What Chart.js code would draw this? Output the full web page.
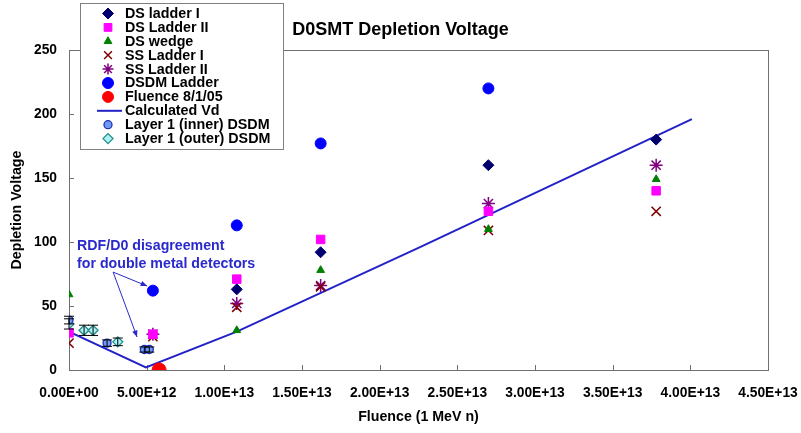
<!DOCTYPE html>
<html>
<head>
<meta charset="utf-8">
<script src="https://cdn.jsdelivr.net/npm/chart.js@4.4.0/dist/chart.umd.min.js"></script>
<style>
  body { margin: 0; background: #fff; }
  #wrap { width: 801px; height: 433px; }
</style>
</head>
<body>
<div id="wrap"><canvas id="chartVd" width="801" height="433"></canvas></div>
<script>
// values (x = fluence, y = depletion voltage)
const xTickLabels = ["0.00E+00", "5.00E+12", "1.00E+13", "1.50E+13", "2.00E+13", "2.50E+13", "3.00E+13", "3.50E+13", "4.00E+13", "4.50E+13"];
const yTickLabels = ["0", "50", "100", "150", "200", "250"];
const chartTitle = "D0SMT Depletion Voltage";

const dsLadder1X = [1.08e13, 1.62e13, 2.7e13, 3.78e13];
const dsLadder1Y = [63, 92, 160, 180];
const dsLadder2X = [0, 5.4e12, 1.08e13, 1.62e13, 2.7e13, 3.78e13];
const dsLadder2Y = [29, 28, 71, 102, 124, 140];
const dsWedgeX = [0, 1.08e13, 1.62e13, 2.7e13, 3.78e13];
const dsWedgeY = [59, 31, 78, 110, 149];
const ssLadder1X = [0, 5.4e12, 1.08e13, 1.62e13, 2.7e13, 3.78e13];
const ssLadder1Y = [21, 26, 49, 65, 109, 124];
const ssLadder2X = [5.4e12, 1.08e13, 1.62e13, 2.7e13, 3.78e13];
const ssLadder2Y = [28, 52, 66, 130, 160];
const dsdmX = [5.4e12, 1.08e13, 1.62e13, 2.7e13];
const dsdmY = [62, 113, 177, 220];
const fluenceX = [5.8e12];
const fluenceY = [0];
const calcX = [0, 4.95e12, 1.08e13, 2.26e13, 4.01e13];
const calcY = [30, 2, 30, 96, 196];
const innerX = [0, 2.45e12, 4.85e12, 5.17e12];
const innerY = [39, 21, 16, 16];
const innerErr = [3, 2.5, 2, 2];
const outerX = [0, 0.97e12, 1.55e12, 3.14e12];
const outerY = [36, 31, 31, 22];
const outerErr = [4, 4, 4, 3];

const pts = (xs, ys) => xs.map((x, i) => ({ x: x, y: ys[i] }));

const FONT = "'Liberation Sans', Arial, sans-serif";

// frame, inward tick marks and the title (centred on the page, not the plot)
const framePlugin = {
  id: "frame",
  beforeDatasetsDraw(chart) {
    const { ctx, chartArea: a, scales } = chart;
    ctx.save();
    ctx.strokeStyle = "#707070";
    ctx.lineWidth = 1;
    ctx.strokeRect(a.left + 0.5, a.top + 0.5, a.right - a.left, a.bottom - a.top);
    ctx.beginPath();
    scales.x.ticks.forEach(t => {
      const px = Math.round(scales.x.getPixelForValue(t.value)) + 0.5;
      ctx.moveTo(px, a.bottom);
      ctx.lineTo(px, a.bottom - 5);
    });
    scales.y.ticks.forEach(t => {
      const py = Math.round(scales.y.getPixelForValue(t.value)) + 0.5;
      ctx.moveTo(a.left, py);
      ctx.lineTo(a.left + 5, py);
    });
    ctx.stroke();
    ctx.fillStyle = "#000";
    ctx.font = "bold 18px " + FONT;
    ctx.textAlign = "center";
    ctx.textBaseline = "middle";
    ctx.fillText(chartTitle, chart.width / 2, 30);
    ctx.restore();
  }
};

// vertical error bars for the Layer 1 points
const errorBarPlugin = {
  id: "errbars",
  afterDatasetsDraw(chart) {
    const { ctx } = chart;
    const ys = chart.scales.y;
    ctx.save();
    ctx.strokeStyle = "#000";
    ctx.lineWidth = 1;
    chart.data.datasets.forEach((ds, di) => {
      if (!ds.errors) return;
      const meta = chart.getDatasetMeta(di);
      meta.data.forEach((el, i) => {
        const e = ds.errors[i];
        const v = ds.data[i].y;
        const top = ys.getPixelForValue(v + e);
        const bot = ys.getPixelForValue(v - e);
        ctx.beginPath();
        ctx.moveTo(el.x, top); ctx.lineTo(el.x, bot);
        ctx.moveTo(el.x - 5, top); ctx.lineTo(el.x + 5, top);
        ctx.moveTo(el.x - 5, bot); ctx.lineTo(el.x + 5, bot);
        ctx.stroke();
      });
    });
    ctx.restore();
  }
};

// note with two arrows
const notePlugin = {
  id: "note",
  afterDatasetsDraw(chart) {
    const { ctx, scales: { x, y } } = chart;
    const P = (vx, vy) => [x.getPixelForValue(vx), y.getPixelForValue(vy)];
    ctx.save();
    ctx.fillStyle = "#2a2acc";
    ctx.strokeStyle = "#2a2acc";
    ctx.font = "bold 14.2px " + FONT;
    ctx.textBaseline = "middle";
    const [tx, ty1] = P(0.52e12, 97);
    const [, ty2] = P(0, 83);
    ctx.fillText("RDF/D0 disagreement", tx, ty1);
    ctx.fillText("for double metal detectors", tx, ty2);
    const s = P(2.84e12, 76.5);
    [P(5.03e12, 65.6), P(4.38e12, 25.8)].forEach(t => {
      ctx.lineWidth = 1;
      ctx.beginPath();
      ctx.moveTo(s[0], s[1]);
      ctx.lineTo(t[0], t[1]);
      ctx.stroke();
      const ang = Math.atan2(t[1] - s[1], t[0] - s[0]);
      ctx.beginPath();
      ctx.moveTo(t[0], t[1]);
      ctx.lineTo(t[0] - 7 * Math.cos(ang - 0.4), t[1] - 7 * Math.sin(ang - 0.4));
      ctx.lineTo(t[0] - 7 * Math.cos(ang + 0.4), t[1] - 7 * Math.sin(ang + 0.4));
      ctx.closePath();
      ctx.fill();
    });
    ctx.restore();
  }
};

// boxed legend sitting over the top-left of the plot
const boxLegendPlugin = {
  id: "boxLegend",
  afterDraw(chart) {
    const { ctx } = chart;
    const drawPoint = Chart.helpers.drawPoint;
    ctx.save();
    ctx.fillStyle = "#fff";
    ctx.fillRect(80, 3, 203, 146);
    ctx.strokeStyle = "#808080";
    ctx.lineWidth = 1;
    ctx.strokeRect(80.5, 3.5, 203, 146);
    ctx.font = "bold 14.3px " + FONT;
    ctx.textBaseline = "middle";
    chart.data.datasets.forEach((ds, i) => {
      const cy = 13.5 + i * 13.9;
      if (ds.showLine) {
        ctx.strokeStyle = ds.borderColor;
        ctx.lineWidth = ds.borderWidth;
        ctx.beginPath();
        ctx.moveTo(97, cy); ctx.lineTo(122, cy);
        ctx.stroke();
      } else {
        ctx.fillStyle = ds.pointBackgroundColor;
        ctx.strokeStyle = ds.pointBorderColor;
        ctx.lineWidth = ds.pointBorderWidth;
        drawPoint(ctx, { pointStyle: ds.pointStyle, radius: Math.min(ds.pointRadius, 5.5), rotation: 0, borderWidth: ds.pointBorderWidth }, 108, cy);
      }
      ctx.fillStyle = "#000";
      ctx.fillText(ds.label, 125, cy + 0.5);
    });
    ctx.restore();
  }
};

function marker(label, data, style, fill, border, r, bw) {
  return {
    label: label,
    data: data,
    showLine: false,
    pointStyle: style,
    pointRadius: r,
    pointHoverRadius: r,
    pointBackgroundColor: fill,
    pointBorderColor: border,
    pointBorderWidth: bw,
    backgroundColor: fill,
    borderColor: border,
  };
}

document.addEventListener("DOMContentLoaded", () => {
  const inner = marker("Layer 1 (inner) DSDM", pts(innerX, innerY), "circle", "#6f9cf0", "#1f2fb8", 4, 1.3);
  inner.errors = innerErr;
  const outer = marker("Layer 1 (outer) DSDM", pts(outerX, outerY), "rectRot", "#aef2f2", "#1f8c8c", 5, 1.3);
  outer.errors = outerErr;

  new Chart(document.querySelector("#chartVd"), {
    type: "scatter",
    data: {
      datasets: [
        marker("DS ladder I", pts(dsLadder1X, dsLadder1Y), "rectRot", "#00006e", "#00006e", 5.5, 1),
        marker("DS Ladder II", pts(dsLadder2X, dsLadder2Y), "rect", "#ff00ff", "#ff00ff", 6, 1),
        marker("DS wedge", pts(dsWedgeX, dsWedgeY), "triangle", "#008000", "#008000", 4.5, 1),
        marker("SS Ladder I", pts(ssLadder1X, ssLadder1Y), "crossRot", "#800000", "#800000", 6.5, 1.5),
        marker("SS Ladder II", pts(ssLadder2X, ssLadder2Y), "star", "#800080", "#800080", 6.5, 1.5),
        marker("DSDM Ladder", pts(dsdmX, dsdmY), "circle", "#0000ff", "#0000ff", 5.5, 1),
        marker("Fluence 8/1/05", pts(fluenceX, fluenceY), "circle", "#ff0000", "#ff0000", 7, 1),
        {
          label: "Calculated Vd",
          data: pts(calcX, calcY),
          showLine: true,
          borderColor: "#2222c8",
          backgroundColor: "#2222c8",
          borderWidth: 2,
          pointRadius: 0,
          tension: 0,
        },
        inner,
        outer,
      ],
    },
    options: {
      responsive: false,
      animation: false,
      layout: { padding: { left: 0, right: 33, top: 50, bottom: 0 } },
      scales: {
        x: {
          type: "linear",
          min: 0,
          max: 4.5e13,
          afterBuildTicks: s => { s.ticks = xTickLabels.map((_, i) => ({ value: i * 5e12 })); },
          afterFit: s => { s.height = 63; s.paddingLeft = 0; s.paddingRight = 0; },
          grid: { display: false, drawTicks: false, tickLength: 0 },
          border: { display: false },
          ticks: {
            callback: (v, i) => xTickLabels[i],
            autoSkip: false,
            maxRotation: 0,
            padding: 15,
            color: "#000",
            font: { family: FONT, size: 13.8, weight: "bold" },
          },
          title: {
            display: true,
            text: "Fluence (1 MeV n)",
            color: "#000",
            padding: { top: 0, bottom: 7 },
            font: { family: FONT, size: 14.2, weight: "bold" },
          },
        },
        y: {
          min: 0,
          max: 250,
          afterBuildTicks: s => { s.ticks = yTickLabels.map(v => ({ value: Number(v) })); },
          afterFit: s => { s.width = 69; s.paddingTop = 0; s.paddingBottom = 0; },
          grid: { display: false, drawTicks: false, tickLength: 0 },
          border: { display: false },
          ticks: {
            callback: (v, i) => yTickLabels[i],
            padding: 12,
            color: "#000",
            font: { family: FONT, size: 13.8, weight: "bold" },
          },
          title: {
            display: true,
            text: "Depletion Voltage",
            color: "#000",
            padding: { top: 9, bottom: 0 },
            font: { family: FONT, size: 14.2, weight: "bold" },
          },
        },
      },
      plugins: {
        legend: { display: false },
        tooltip: { enabled: false },
        title: { display: false },
      },
    },
    plugins: [framePlugin, errorBarPlugin, notePlugin, boxLegendPlugin],
  });
});
</script>
</body>
</html>
